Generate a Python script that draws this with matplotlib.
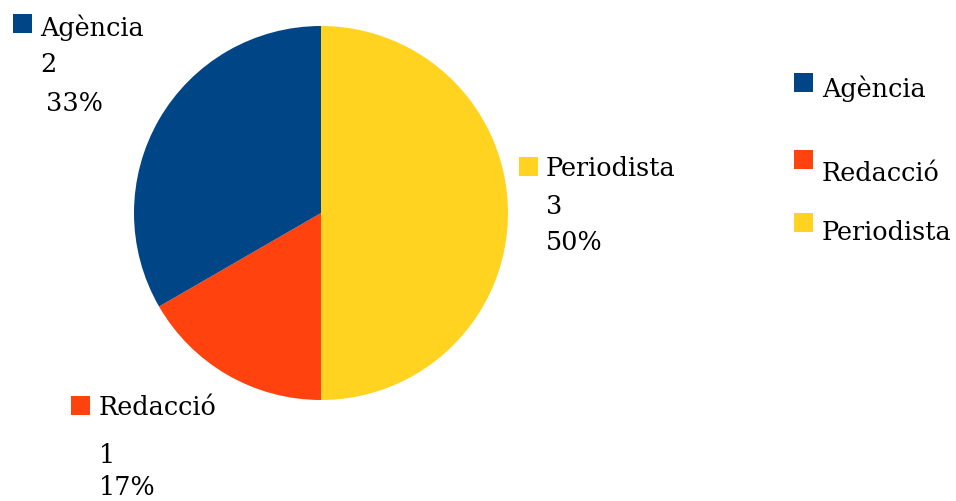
import matplotlib

matplotlib.use("Agg")
import matplotlib.pyplot as plt
from matplotlib.patches import Rectangle

labels = ["Periodista", "Redacció", "Agència"]
values = [3, 1, 2]
colors = ["#ffd320", "#ff420e", "#004586"]
legend_order = ["Agència", "Redacció", "Periodista"]

W, H = 956, 501
FONT = "DejaVu Serif"
FS = 18.4

fig = plt.figure(figsize=(W / 100, H / 100), dpi=100)


def fx(px):
    return px / W


def fy(py):
    return 1 - py / H


# pie centred at (321, 213) px, radius 187 px
cx, cy, r = 321, 213, 187
ax = fig.add_axes([fx(cx - r), fy(cy + r), 2 * r / W, 2 * r / H])
ax.pie(values, colors=colors, startangle=90, counterclock=False,
       radius=1, wedgeprops=dict(linewidth=0))
ax.set_xlim(-1, 1)
ax.set_ylim(-1, 1)
ax.set_aspect("auto")
ax.axis("off")


def square(x, y, color, size=19):
    fig.patches.append(Rectangle((fx(x), fy(y + size)), size / W, size / H,
                                 transform=fig.transFigure, color=color, lw=0))


def txt(x, y, s):
    fig.text(fx(x), fy(y), s, fontsize=FS, family=FONT, va="baseline", ha="left")


# data labels: square, name, value, percent (baselines in px)
total = sum(values)
data_pos = {
    "Agència": ((13, 14), (40, 36), (40, 72), (46, 111)),
    "Periodista": ((519, 157), (546, 176), (546, 214), (546, 250)),
    "Redacció": ((71, 396), (99, 415), (99, 463), (99, 495)),
}
for lab, val, col in zip(labels, values, colors):
    sq, p1, p2, p3 = data_pos[lab]
    square(*sq, col)
    txt(*p1, lab)
    txt(*p2, str(val))
    txt(*p3, f"{round(100 * val / total)}%")

# legend
leg_pos = {"Agència": (73, 97), "Redacció": (150, 181), "Periodista": (213, 240)}
for lab in legend_order:
    col = colors[labels.index(lab)]
    sq_y, base = leg_pos[lab]
    square(794, sq_y, col)
    txt(822, base, lab)

fig.savefig("out.png", dpi=100)
